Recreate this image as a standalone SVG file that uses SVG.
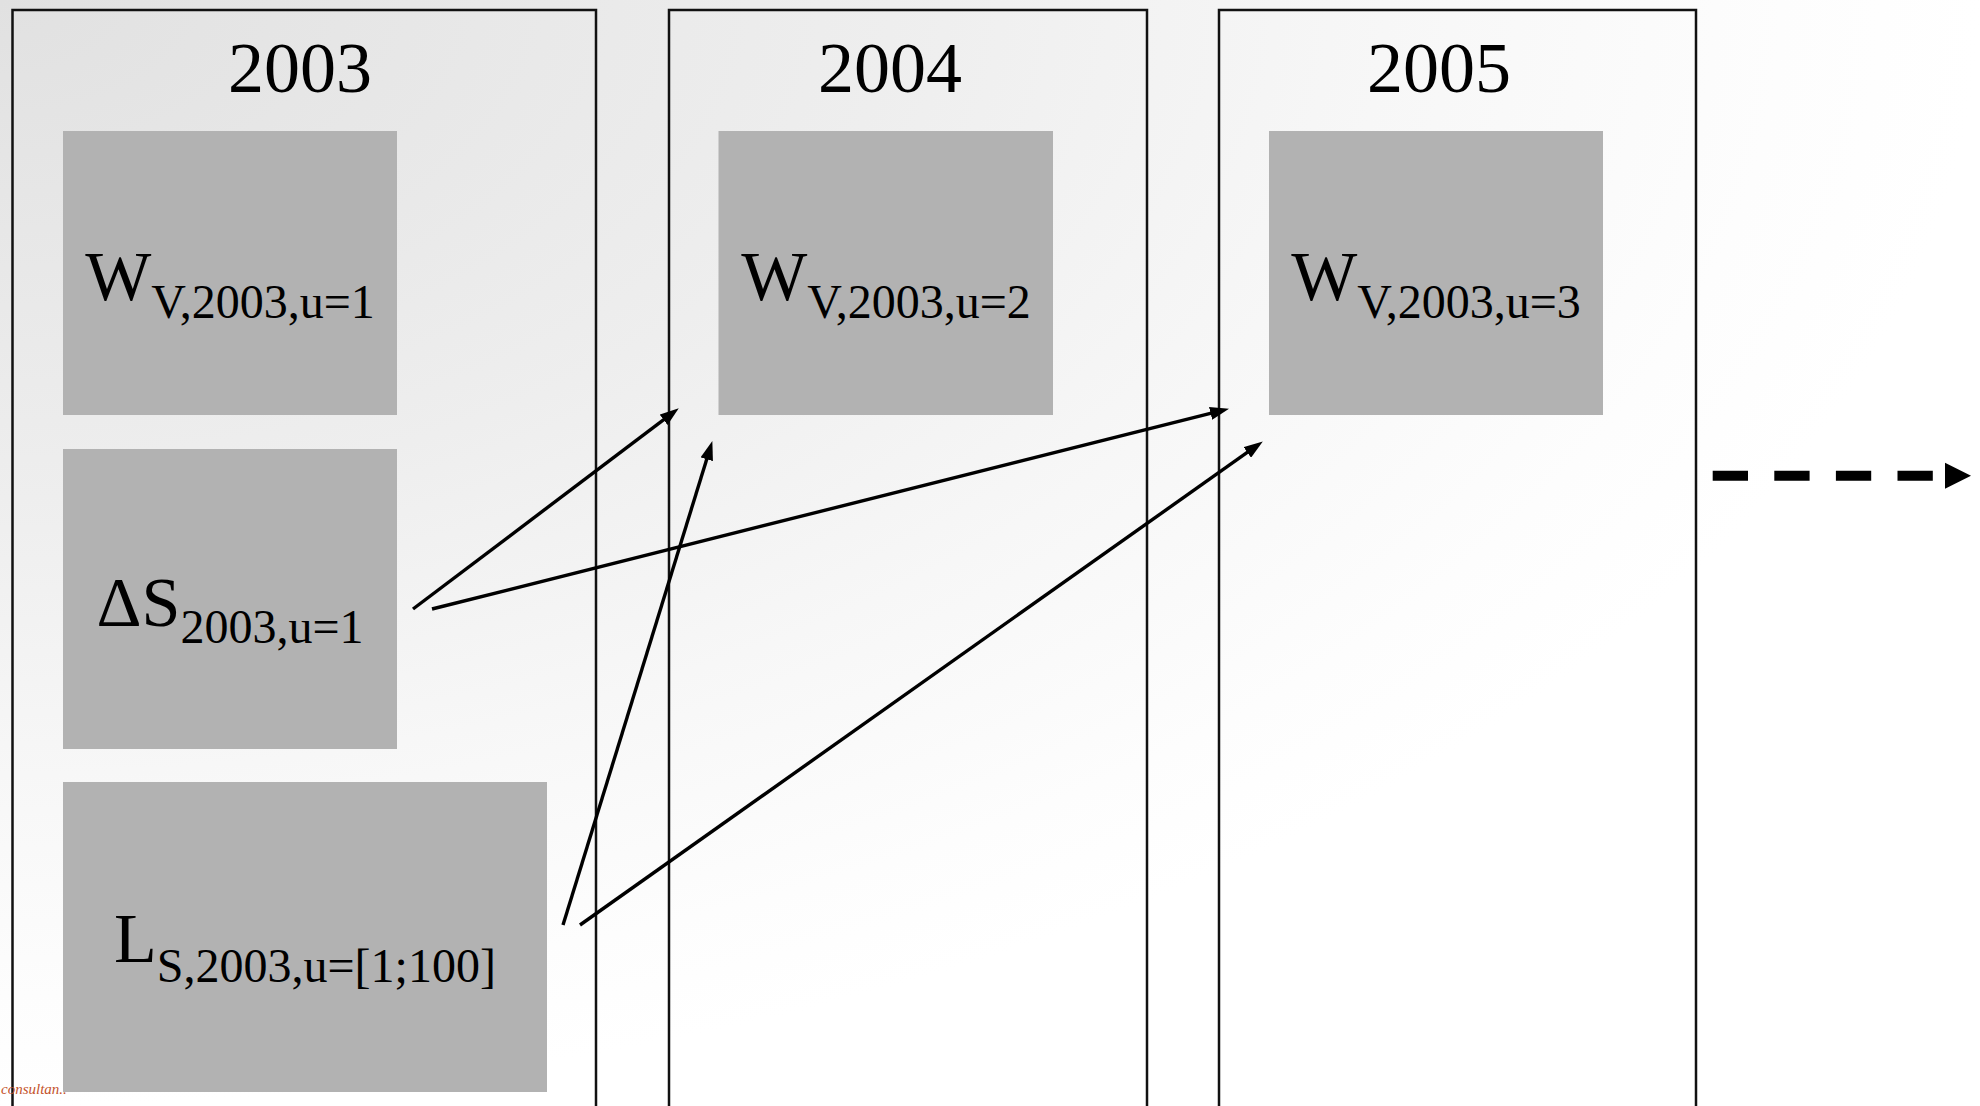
<svg xmlns="http://www.w3.org/2000/svg" width="1980" height="1106" viewBox="0 0 1980 1106">
  <defs>
    <!-- soft corner shading of the slide background -->
    <radialGradient id="bg" cx="0" cy="0" r="1" gradientUnits="objectBoundingBox">
      <stop offset="0" stop-color="#e1e1e1"/>
      <stop offset="0.45" stop-color="#eeeeee"/>
      <stop offset="0.7" stop-color="#f7f7f7"/>
      <stop offset="0.9" stop-color="#fdfdfd"/>
      <stop offset="1" stop-color="#ffffff"/>
    </radialGradient>
    <marker id="ah" markerUnits="userSpaceOnUse" markerWidth="19" markerHeight="13" refX="6" refY="6.5" orient="auto">
      <path d="M0,0 L19,6.5 L0,13 z" fill="#000"/>
    </marker>
  </defs>
  <style>
    .frame { fill: none; stroke: #111; stroke-width: 2.5; }
    .box { fill: #b2b2b2; }
    .year { font-family: "Liberation Serif", "Times New Roman", serif; font-size: 72px; fill: #000; text-anchor: middle; }
    .lbl { font-family: "Liberation Serif", "Times New Roman", serif; font-size: 70px; fill: #000; text-anchor: middle; }
    .sub { font-size: 48px; }
    .conn { stroke: #000; stroke-width: 3.4; fill: none; marker-end: url(#ah); }
    .logo { font-family: "Liberation Serif", serif; font-style: italic; font-size: 15px; fill: #c4532d; }
  </style>

  <rect x="0" y="0" width="1980" height="1106" fill="url(#bg)"/>

  <!-- year columns -->
  <g id="year-2003">
    <rect class="frame" x="12.5" y="10" width="583.5" height="1110"/>
    <text class="year" x="300" y="92">2003</text>
  </g>
  <g id="year-2004">
    <rect class="frame" x="669" y="10" width="478" height="1110"/>
    <text class="year" x="890" y="92">2004</text>
  </g>
  <g id="year-2005">
    <rect class="frame" x="1219" y="10" width="477" height="1110"/>
    <text class="year" x="1439" y="92">2005</text>
  </g>

  <!-- value boxes -->
  <g id="w-2003-u1">
    <rect class="box" x="63" y="131" width="334" height="284"/>
    <text class="lbl" x="230" y="300">W<tspan class="sub" dy="18">V,2003,u=1</tspan></text>
  </g>
  <g id="w-2003-u2">
    <rect class="box" x="718.5" y="131" width="334.5" height="284"/>
    <text class="lbl" x="886" y="300">W<tspan class="sub" dy="18">V,2003,u=2</tspan></text>
  </g>
  <g id="w-2003-u3">
    <rect class="box" x="1269" y="131" width="334" height="284"/>
    <text class="lbl" x="1436" y="300">W<tspan class="sub" dy="18">V,2003,u=3</tspan></text>
  </g>
  <g id="delta-s-2003">
    <rect class="box" x="63" y="449" width="334" height="300"/>
    <text class="lbl" x="230" y="626">ΔS<tspan class="sub" dy="17">2003,u=1</tspan></text>
  </g>
  <g id="l-s-2003">
    <rect class="box" x="63" y="782" width="484" height="310"/>
    <text class="lbl" x="305" y="962">L<tspan class="sub" dy="20">S,2003,u=[1;100]</tspan></text>
  </g>

  <!-- connectors -->
  <g id="connectors">
    <line class="conn" x1="413" y1="609" x2="668.4" y2="416.2"/>
    <line class="conn" x1="432" y1="609" x2="1216.4" y2="411.9"/>
    <line class="conn" x1="563" y1="925" x2="708.5" y2="453.5"/>
    <line class="conn" x1="580" y1="925" x2="1252.2" y2="448.9"/>
    <!-- continuation to later years -->
    <line x1="1712.7" y1="475.7" x2="1945" y2="475.7" stroke="#000" stroke-width="10" stroke-dasharray="35.3 26.3"/>
    <path d="M1945,462.7 L1971,475.7 L1945,488.7 z" fill="#000"/>
  </g>

  <text class="logo" x="1" y="1094">consultan..</text>
</svg>
